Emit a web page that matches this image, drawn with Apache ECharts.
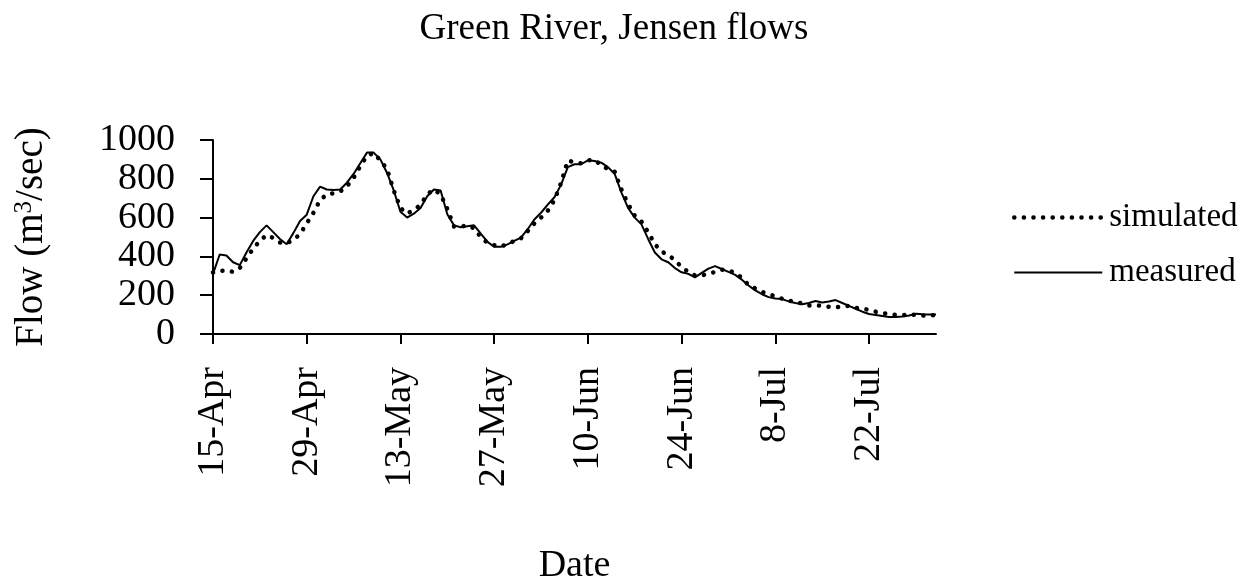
<!DOCTYPE html>
<html>
<head>
<meta charset="utf-8">
<script src="https://cdn.jsdelivr.net/npm/echarts@6/dist/echarts.min.js"></script>
<style>
html,body{margin:0;padding:0;background:#fff;}
#chart{width:1254px;height:586px;}
</style>
</head>
<body>
<div id="chart"></div>
<script>
// Categories: daily dates from 15-Apr to 1-Aug
var startMonth = 3, startDay = 15, dayCount = 109;
var monthNames = ['Jan','Feb','Mar','Apr','May','Jun','Jul','Aug','Sep','Oct','Nov','Dec'];
var categories = [];
(function(){
  var d = new Date(2001, startMonth, startDay);
  for (var i = 0; i < dayCount; i++) {
    categories.push(d.getDate() + '-' + monthNames[d.getMonth()]);
    d.setDate(d.getDate() + 1);
  }
})();

var measured = [
  310,410,405,370,355,420,480,525,560,525,
  490,463,520,583,615,710,760,745,742,745,
  780,825,880,935,935,900,830,740,630,600,
  620,650,710,745,740,617,560,550,555,560,
  517,475,450,450,462,480,497,540,590,625,
  667,705,770,860,875,875,895,892,883,860,
  825,730,650,600,565,490,420,385,370,340,
  318,310,292,315,337,350,335,320,305,280,
  250,225,205,190,183,180,168,160,153,160,
  170,162,168,175,160,145,130,115,103,98,
  93,88,88,90,95,105,102,100,100
];

var simulated = [
  317,325,328,320,340,390,440,480,510,495,
  472,467,485,515,570,625,690,720,725,735,
  760,805,865,918,933,895,850,740,650,620,
  640,665,720,745,720,645,555,553,560,545,
  500,470,458,452,462,480,493,530,570,600,
  635,690,780,895,885,880,895,898,870,850,
  837,745,670,610,580,525,463,425,408,380,
  345,320,302,302,310,320,332,328,315,290,
  252,235,218,205,195,182,172,165,158,147,
  148,145,140,137,142,145,135,130,125,115,
  108,103,98,98,100,98,95,97,97
];

var yTicks = [0, 200, 400, 600, 800, 1000];

var FONT = 'Liberation Serif';
var dotStyle = { color: '#000', width: 4.5, type: [0.1, 9.5], cap: 'round' };
var solidStyle = { color: '#000', width: 2, type: 'solid' };
var chart = echarts.init(document.getElementById('chart'));
chart.setOption({
  backgroundColor: '#fff',
  animation: false,
  title: {
    text: 'Green River, Jensen flows',
    left: 609, top: 6, textAlign: 'center',
    textStyle: { fontFamily: FONT, fontSize: 37, fontWeight: 'normal', color: '#000' }
  },
  legend: {
    orient: 'vertical',
    left: 1007, top: 196,
    itemWidth: 88, itemHeight: 20, itemGap: 22,
    itemStyle: { opacity: 0, color: 'transparent', borderWidth: 0 },
    textStyle: { fontFamily: FONT, fontSize: 33, color: '#000', padding: [0,0,0,2] },
    data: [
      { name: 'simulated', lineStyle: dotStyle },
      { name: 'measured', lineStyle: solidStyle }
    ]
  },
  grid: { left: 213, right: 318, top: 140, bottom: 246 },
  xAxis: {
    type: 'category',
    data: categories,
    boundaryGap: false,
    name: 'Date',
    nameLocation: 'middle',
    nameGap: 213,
    nameTextStyle: { fontFamily: FONT, fontSize: 38, color: '#000' },
    axisLine: { lineStyle: { color: '#000', width: 2 } },
    axisTick: { show: true, interval: 13, length: 10, inside: false, lineStyle: { color: '#000', width: 2 } },
    axisLabel: { interval: 13, rotate: 90, margin: 33, fontFamily: FONT, fontSize: 38, color: '#000' },
    splitLine: { show: false }
  },
  yAxis: {
    type: 'value',
    min: 0, max: 1000, interval: 200,
    name: 'Flow (m{sup|3}/sec)',
    nameLocation: 'middle',
    nameGap: 162,
    nameRotate: 90,
    nameTextStyle: {
      fontFamily: FONT, fontSize: 39, color: '#000',
      rich: { sup: { fontFamily: FONT, fontSize: 25, color: '#000', verticalAlign: 'top', padding: [0,0,14,0] } }
    },
    axisLine: { show: true, lineStyle: { color: '#000', width: 2 } },
    axisTick: { show: true, length: 13, inside: false, lineStyle: { color: '#000', width: 2 } },
    axisLabel: { margin: 38, fontFamily: FONT, fontSize: 38, color: '#000',
      formatter: function(v){ return yTicks.indexOf(v) >= 0 ? String(v) : ''; } },
    splitLine: { show: false }
  },
  series: [
    {
      name: 'simulated', type: 'line', data: simulated,
      showSymbol: false, symbol: 'none', z: 3,
      lineStyle: dotStyle,
      itemStyle: { color: '#000' }
    },
    {
      name: 'measured', type: 'line', data: measured,
      showSymbol: false, symbol: 'none', z: 2,
      lineStyle: solidStyle,
      itemStyle: { color: '#000' }
    }
  ]
});
</script>
</body>
</html>
